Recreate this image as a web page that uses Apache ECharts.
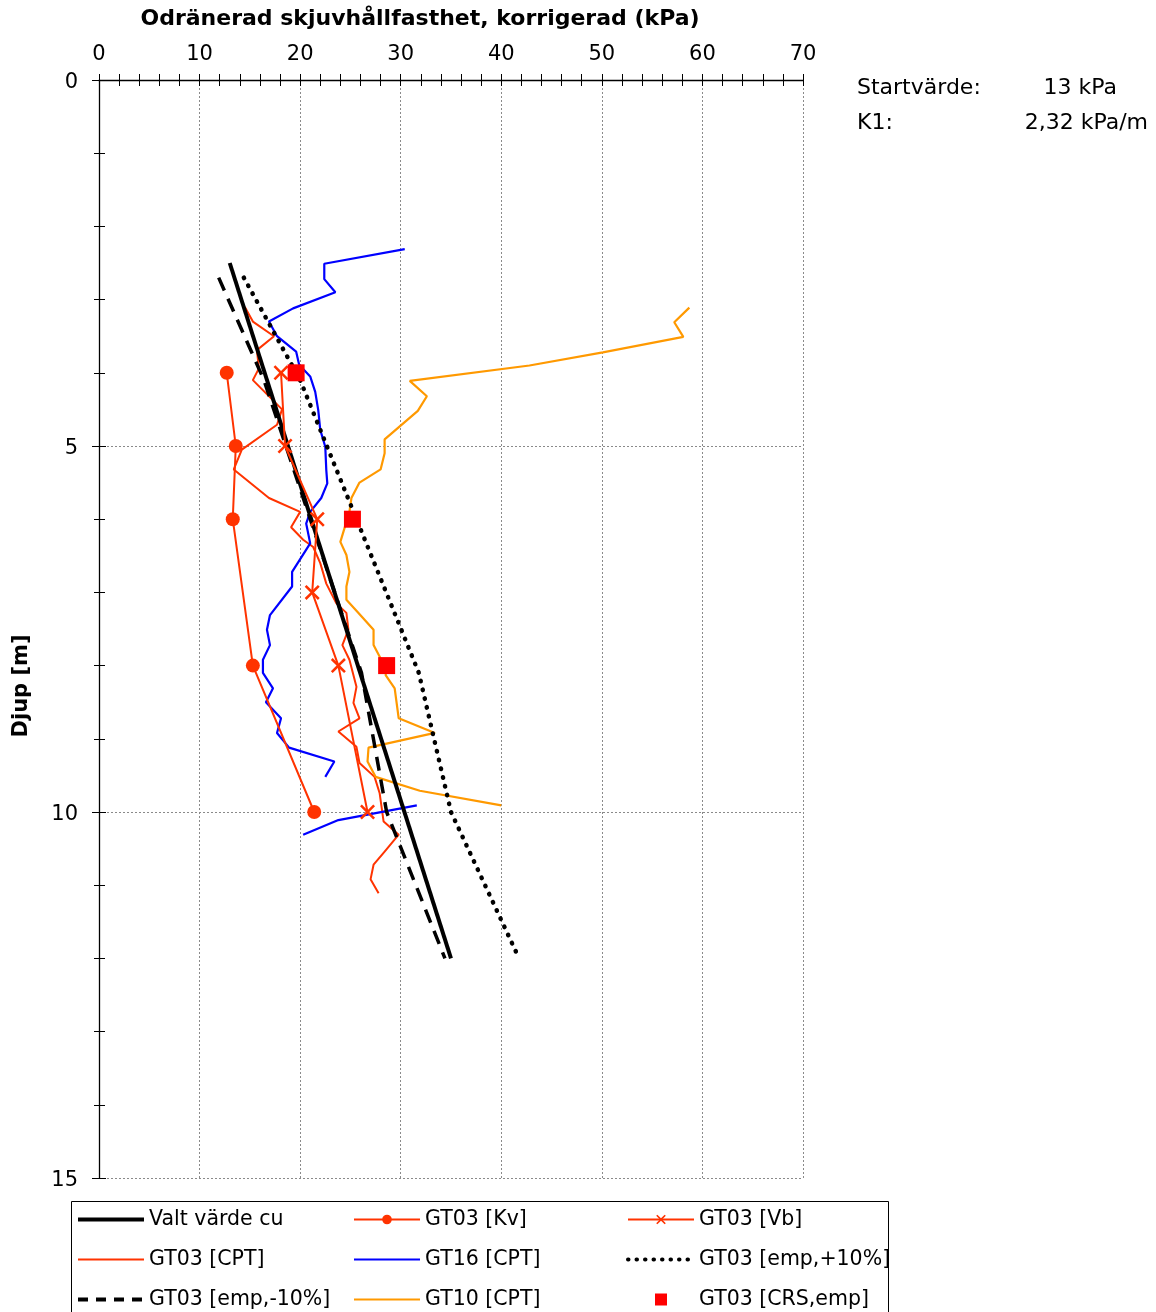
<!DOCTYPE html>
<html><head><meta charset="utf-8">
<script src="https://cdn.jsdelivr.net/npm/echarts@6/dist/echarts.min.js"></script>
<style>html,body{margin:0;padding:0;background:#fff}#c{width:1156px;height:1312px}</style>
</head><body><div id="c"></div>
<script>
// ---------- data ----------
const xTicks = [0, 10, 20, 30, 40, 50, 60, 70];
const yTicks = [0, 5, 10, 15];

const valtDepth = [2.5, 12.0];
const valtCu = [13.0, 35.0];

const empPlusDepth = [2.7, 4.1, 8.1, 10.0, 11.95];
const empPlusCu = [14.4, 20.0, 31.8, 35.0, 41.6];

const empMinusDepth = [2.7, 4.1, 8.1, 10.0, 12.0];
const empMinusCu = [11.9, 16.4, 26.1, 28.6, 34.4];

const kvDepth = [4.0, 5.0, 6.0, 8.0, 10.0];
const kvCu = [12.7, 13.6, 13.3, 15.3, 21.4];

const vbDepth = [4.0, 5.0, 6.0, 7.0, 8.0, 10.0];
const vbCu = [18.1, 18.5, 21.7, 21.2, 23.8, 26.7];

const crsDepth = [4.0, 6.0, 8.0];
const crsCu = [19.6, 25.2, 28.6];

const gt03CptDepth = [3.1, 3.3, 3.5, 3.69, 3.94, 4.1, 4.5, 4.71, 5.05, 5.32, 5.71, 5.9, 6.11, 6.28, 6.38, 6.6, 6.88, 7.15, 7.28, 7.51, 7.72, 7.92, 8.29, 8.51, 8.72, 8.9, 9.11, 9.33, 9.52, 9.74, 10.13, 10.31, 10.54, 10.72, 10.92, 11.11];
const gt03CptCu = [14.5, 15.3, 17.4, 15.7, 15.9, 15.3, 18.2, 17.7, 14.2, 13.4, 16.9, 20.0, 19.1, 20.3, 21.3, 22.0, 22.6, 23.6, 24.6, 24.8, 24.2, 24.9, 25.6, 25.3, 25.9, 23.8, 25.6, 25.9, 27.4, 27.9, 28.3, 29.8, 28.4, 27.3, 27.0, 27.8];

const gt16CptDepthA = [2.31, 2.51, 2.72, 2.9, 3.12, 3.3, 3.5, 3.71, 3.89, 4.05, 4.26, 4.51, 4.78, 5.01, 5.33, 5.51, 5.71, 5.9, 6.06, 6.33, 6.72, 6.92, 7.31, 7.51, 7.72, 7.92, 8.1, 8.31, 8.5, 8.72, 8.92, 9.12, 9.31, 9.52];
const gt16CptCuA = [30.4, 22.4, 22.4, 23.5, 19.3, 16.9, 17.7, 19.6, 19.9, 21.0, 21.5, 21.8, 22.0, 22.5, 22.6, 22.7, 22.1, 21.0, 20.6, 21.0, 19.2, 19.2, 17.0, 16.7, 17.0, 16.3, 16.3, 17.3, 16.6, 18.1, 17.7, 18.9, 23.4, 22.5];
const gt16CptDepthB = [9.91, 10.11, 10.31];
const gt16CptCuB = [31.6, 23.8, 20.3];

const gt10CptDepth = [3.11, 3.31, 3.51, 3.72, 3.9, 4.11, 4.32, 4.52, 4.91, 5.1, 5.32, 5.5, 5.71, 5.9, 6.31, 6.49, 6.72, 6.92, 7.1, 7.28, 7.51, 7.72, 8.06, 8.13, 8.31, 8.72, 8.92, 9.12, 9.31, 9.52, 9.71, 9.91];
const gt10CptCu = [58.7, 57.2, 58.1, 50.1, 42.8, 30.9, 32.6, 31.7, 28.4, 28.4, 28.0, 25.9, 25.1, 24.9, 24.0, 24.6, 24.9, 24.6, 24.6, 25.8, 27.3, 27.3, 28.6, 28.5, 29.4, 29.8, 33.4, 26.8, 26.7, 27.5, 31.9, 40.0];

const startLabel = 'Startvärde:';
const startValue = '13 kPa';
const k1Label = 'K1:';
const k1Value = '2,32 kPa/m';

// ---------- build ----------
const zip = (cu, d) => cu.map((v, i) => [v, d[i]]);
const FONT = 'DejaVu Sans';
const RED = '#ff3300';
const crossPath = 'path://M0,1.2L1.2,0L5,3.8L8.8,0L10,1.2L6.2,5L10,8.8L8.8,10L5,6.2L1.2,10L0,8.8L3.8,5Z';
const squarePath = 'path://M0,0L10,0L10,10L0,10Z';
const noMark = {opacity: 0};

const chart = echarts.init(document.getElementById('c'), null, {renderer: 'canvas'});

const gridLine = {show: true, lineStyle: {color: '#8a8a8a', type: [2, 2], width: 1}};
const axisCommon = {
  min: 0, axisLine: {show: true, onZero: false, lineStyle: {color: '#000', width: 1.3}},
  splitLine: gridLine, minorSplitLine: {show: false}
};

const legendText = {fontFamily: FONT, fontSize: 20.5, color: '#000', lineHeight: 20};
const legendBase = {
  orient: 'vertical', selectedMode: false, itemWidth: 66, itemHeight: 12, itemGap: 19,
  top: 1209, textStyle: legendText, padding: 0, symbolKeepAspect: true
};

const option = {
  animation: false,
  backgroundColor: '#fff',
  textStyle: {fontFamily: FONT},
  grid: {left: 99, top: 80, width: 704, height: 1098, containLabel: false},
  xAxis: [
    Object.assign({}, axisCommon, {
      type: 'value', position: 'top', max: 70, interval: 10,
      axisTick: {show: true, inside: false, length: 6, lineStyle: {color: '#000'}},
      minorTick: {show: true, splitNumber: 5, length: 6, lineStyle: {color: '#000'}},
      axisLabel: {fontFamily: FONT, fontSize: 21, color: '#000', margin: 15,
        formatter: v => xTicks.includes(v) ? String(v) : ''}
    }),
    {
      type: 'value', position: 'top', min: 0, max: 70, interval: 10,
      axisLine: {show: false, onZero: false}, splitLine: {show: false}, axisLabel: {show: false},
      axisTick: {show: true, inside: true, length: 6, lineStyle: {color: '#000'}},
      minorTick: {show: true, splitNumber: 5, length: 6, lineStyle: {color: '#000'}}
    }
  ],
  yAxis: [
    Object.assign({}, axisCommon, {
      type: 'value', position: 'left', inverse: true, max: 15, interval: 5,
      axisTick: {show: true, inside: false, length: 7, lineStyle: {color: '#000'}},
      minorTick: {show: true, splitNumber: 5, length: 5, lineStyle: {color: '#000'}},
      axisLabel: {fontFamily: FONT, fontSize: 21, color: '#000', margin: 21,
        formatter: v => yTicks.includes(v) ? '{a|' + v + '}' : '',
        rich: {a: {fontFamily: FONT, fontSize: 21, color: '#000', padding: [5, 0, 0, 0]}}}
    }),
    {
      type: 'value', position: 'left', inverse: true, min: 0, max: 15, interval: 5,
      axisLine: {show: false, onZero: false}, splitLine: {show: false}, axisLabel: {show: false},
      axisTick: {show: true, inside: true, length: 7, lineStyle: {color: '#000'}},
      minorTick: {show: true, splitNumber: 5, length: 6, lineStyle: {color: '#000'}}
    }
  ],
  legend: [
    Object.assign({}, legendBase, {left: 76, data: [
      {name: 'Valt värde cu', itemStyle: noMark, lineStyle: {width: 4}},
      {name: 'GT03 [CPT]', itemStyle: noMark, lineStyle: {width: 2}},
      {name: 'GT03 [emp,-10%]', itemStyle: noMark, lineStyle: {width: 4, type: [10, 8]}}]}),
    Object.assign({}, legendBase, {left: 353, data: [
      {name: 'GT03 [Kv]', lineStyle: {width: 2}},
      {name: 'GT16 [CPT]', itemStyle: noMark, lineStyle: {width: 2}},
      {name: 'GT10 [CPT]', itemStyle: noMark, lineStyle: {width: 2}}]}),
    Object.assign({}, legendBase, {left: 626, data: [
      {name: 'GT03 [Vb]', lineStyle: {width: 2}},
      {name: 'GT03 [emp,+10%]', itemStyle: noMark, lineStyle: {width: 4, type: [0.5, 8], cap: 'round'}},
      {name: 'GT03 [CRS,emp]', icon: squarePath}]})
  ],
  graphic: [
    {type: 'text', x: 420, y: 19, style: {text: 'Odränerad skjuvhållfasthet, korrigerad (kPa)', x: 0, y: 0,
      textAlign: 'center', textVerticalAlign: 'middle', font: 'bold 22px "DejaVu Sans"', fill: '#000'}},
    {type: 'text', x: 22, y: 686, rotation: Math.PI / 2, style: {text: 'Djup [m]', x: 0, y: 0,
      textAlign: 'center', textVerticalAlign: 'middle', font: 'bold 21px "DejaVu Sans"', fill: '#000'}},
    {type: 'text', x: 857, y: 88, style: {text: startLabel, textAlign: 'left', textVerticalAlign: 'middle', font: '22px "DejaVu Sans"', fill: '#000'}},
    {type: 'text', x: 1117, y: 88, style: {text: startValue, textAlign: 'right', textVerticalAlign: 'middle', font: '22px "DejaVu Sans"', fill: '#000'}},
    {type: 'text', x: 857, y: 123, style: {text: k1Label, textAlign: 'left', textVerticalAlign: 'middle', font: '22px "DejaVu Sans"', fill: '#000'}},
    {type: 'text', x: 1148, y: 123, style: {text: k1Value, textAlign: 'right', textVerticalAlign: 'middle', font: '22px "DejaVu Sans"', fill: '#000'}},
    {type: 'rect', shape: {x: 71.5, y: 1201.5, width: 817, height: 140}, style: {fill: 'none', stroke: '#000', lineWidth: 1}, z: -1}
  ],
  series: [
    {name: 'GT03 [CPT]', type: 'line', data: zip(gt03CptCu, gt03CptDepth), symbol: 'none',
      lineStyle: {color: RED, width: 2}, itemStyle: {color: RED}, z: 2},
    {name: 'GT16 [CPT]', type: 'line', data: zip(gt16CptCuA, gt16CptDepthA), symbol: 'none',
      lineStyle: {color: '#0000ff', width: 2.2}, itemStyle: {color: '#0000ff'}, z: 2},
    {name: 'GT16 [CPT]', type: 'line', data: zip(gt16CptCuB, gt16CptDepthB), symbol: 'none',
      lineStyle: {color: '#0000ff', width: 2.2}, itemStyle: {color: '#0000ff'}, z: 2},
    {name: 'GT10 [CPT]', type: 'line', data: zip(gt10CptCu, gt10CptDepth), symbol: 'none',
      lineStyle: {color: '#ff9900', width: 2.2}, itemStyle: {color: '#ff9900'}, z: 2},
    {name: 'GT03 [emp,-10%]', type: 'line', data: zip(empMinusCu, empMinusDepth), symbol: 'none',
      lineStyle: {color: '#000', width: 3.5, type: [14, 9]}, itemStyle: {color: '#000'}, z: 3},
    {name: 'GT03 [emp,+10%]', type: 'line', data: zip(empPlusCu, empPlusDepth), symbol: 'none',
      lineStyle: {color: '#000', width: 4.5, type: [0.5, 8.5], cap: 'round'}, itemStyle: {color: '#000'}, z: 3},
    {name: 'Valt värde cu', type: 'line', data: zip(valtCu, valtDepth), symbol: 'none',
      lineStyle: {color: '#000', width: 4}, itemStyle: {color: '#000'}, z: 3},
    {name: 'GT03 [Kv]', type: 'line', data: zip(kvCu, kvDepth), symbol: 'circle', symbolSize: 14,
      showSymbol: true, lineStyle: {color: RED, width: 2}, itemStyle: {color: RED}, z: 4},
    {name: 'GT03 [Vb]', type: 'line', data: zip(vbCu, vbDepth), symbol: crossPath, symbolSize: 15,
      showSymbol: true, lineStyle: {color: RED, width: 2}, itemStyle: {color: RED}, z: 4},
    {name: 'GT03 [CRS,emp]', type: 'scatter', data: zip(crsCu, crsDepth), symbol: 'rect', symbolSize: 17,
      itemStyle: {color: '#ff0000', opacity: 1}, z: 5}
  ]
};
chart.setOption(option);
</script>
</body></html>
